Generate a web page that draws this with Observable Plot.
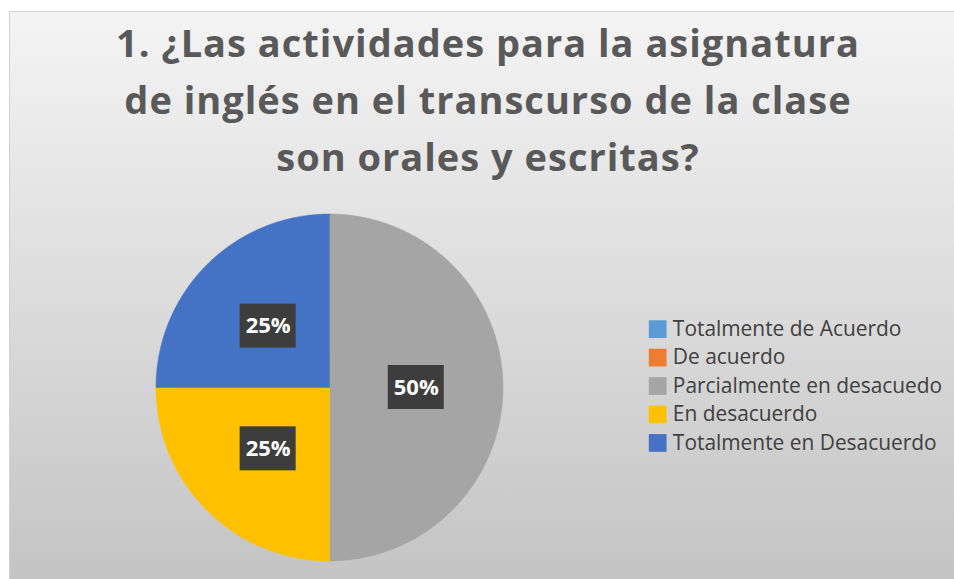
<!DOCTYPE html>
<html><head><meta charset="utf-8">
<script src="https://cdn.jsdelivr.net/npm/d3@7"></script>
<script src="https://cdn.jsdelivr.net/npm/@observablehq/plot@0.6"></script>
<style>
body{margin:0;background:#fff;width:954px;height:579px;overflow:hidden;font-family:"Open Sans",sans-serif;position:relative}
#frame{position:absolute;left:9px;top:11px;width:945px;height:568px;background:linear-gradient(to bottom,#f4f4f4,#c4c4c4);border-top:1px solid #d2d2d2;border-left:1px solid #d2d2d2;box-sizing:border-box}
#title{position:absolute;left:22px;width:932px;top:14px;text-align:center;font-size:38px;line-height:57px;letter-spacing:1px;font-weight:700;color:#595959;font-family:"Open Sans",sans-serif}
#pie{position:absolute;left:0;top:190px}
#legend{position:absolute;left:640px;top:310px}
svg{background:transparent !important;overflow:visible}
</style></head><body>
<div id="frame"></div>
<div id="title"></div>
<div id="pie"></div>
<div id="legend"></div>
<script>
const titleLines = ["1. ¿Las actividades para la asignatura", "de inglés en el transcurso de la clase", "son orales y escritas?"];
const categories = ["Totalmente de Acuerdo", "De acuerdo", "Parcialmente en desacuedo", "En desacuerdo", "Totalmente en Desacuerdo"];
const percents = [0, 0, 50, 25, 25];
const colors = ["#5b9bd5", "#ed7d31", "#a5a5a5", "#ffc000", "#4472c4"];

document.getElementById("title").innerHTML = titleLines.join("<br>");

const data = categories.map((c, i) => ({category: c, value: percents[i]}));
const arcs = d3.pie().sort(null).value(d => d.value)(data);

// polygon outlines of each slice, derived from the pie angles
const poly = [];
const labels = [];
for (const a of arcs) {
  if (a.data.value <= 0) continue;
  const c = a.data.category;
  poly.push({category: c, x: 0, y: 0});
  const n = Math.max(2, Math.ceil((a.endAngle - a.startAngle) / (Math.PI / 360)));
  for (let k = 0; k <= n; k++) {
    const t = a.startAngle + (a.endAngle - a.startAngle) * k / n;
    poly.push({category: c, x: Math.sin(t), y: Math.cos(t)});
  }
  poly.push({category: c, x: 0, y: 0});
  const m = (a.startAngle + a.endAngle) / 2;
  labels.push({category: c, x: 0.5 * Math.sin(m), y: 0.5 * Math.cos(m), label: a.data.value + "%"});
}

const pie = Plot.plot({
  width: 520, height: 389, margin: 0,
  style: {background: "transparent", fontFamily: "'Open Sans', sans-serif"},
  x: {domain: [-1, 1], range: [155.5, 502.5], axis: null},
  y: {domain: [-1, 1], range: [370.5, 23.5], axis: null},
  color: {domain: categories, range: colors},
  marks: [
    Plot.line(poly, {x: "x", y: "y", z: "category", fill: "category", stroke: "category", strokeWidth: 0.5, curve: "linear"}),
    Plot.rect(labels, {x1: "x", x2: "x", y1: "y", y2: "y", insetLeft: -28, insetRight: -28, insetTop: -22, insetBottom: -22, fill: "#3d3d3d"}),
    Plot.text(labels, {x: "x", y: "y", text: "label", fill: "white", fontSize: 22, fontWeight: 700})
  ]
});
document.getElementById("pie").appendChild(pie);

const legend = Plot.plot({
  width: 320, height: 160, margin: 0,
  style: {background: "transparent", fontFamily: "'Open Sans', sans-serif"},
  x: {axis: null},
  y: {type: "point", domain: categories, range: [18, 136], padding: 0, axis: null},
  color: {domain: categories, range: colors},
  marks: [
    Plot.dot(categories, {y: d => d, frameAnchor: "left", dx: 17.5, symbol: "square", r: 10.2, fill: d => d, stroke: null}),
    Plot.text(categories, {y: d => d, frameAnchor: "left", dx: 33, textAnchor: "start", text: d => d, fontSize: 21.3, fill: "#404040"})
  ]
});
document.getElementById("legend").appendChild(legend);
</script>
</body></html>
